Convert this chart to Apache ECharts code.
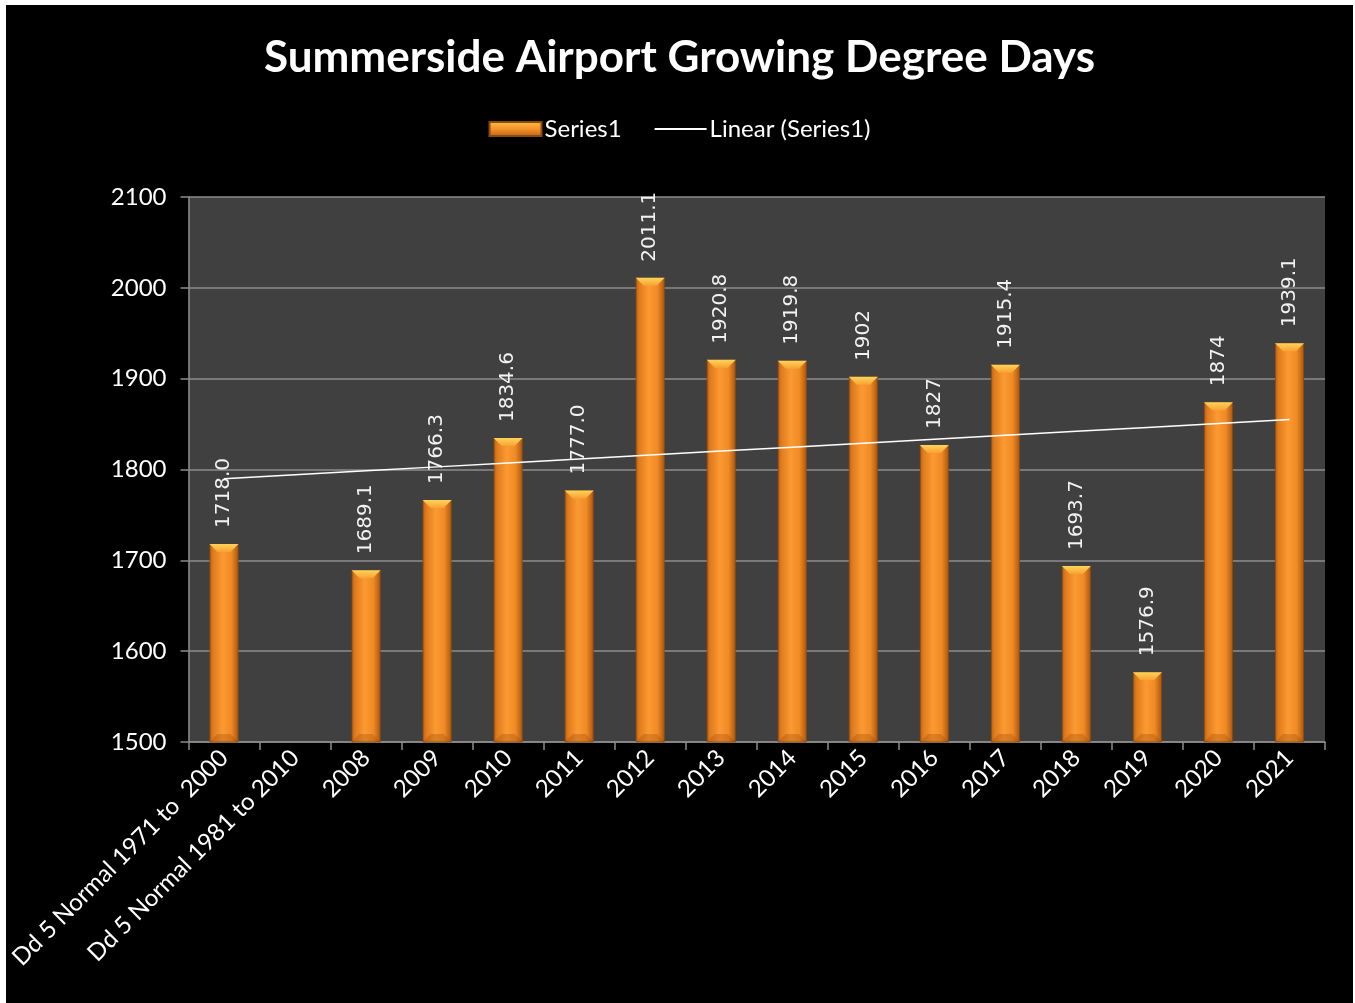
<!DOCTYPE html>
<html>
<head>
<meta charset="utf-8">
<title>Summerside Airport Growing Degree Days</title>
<script src="https://cdn.jsdelivr.net/npm/echarts@6/dist/echarts.min.js"></script>
<style>
  html, body { margin: 0; padding: 0; background: #ffffff; }
  #chart { position: absolute; left: 6px; top: 5px; width: 1347px; height: 998px; background: #000000; }
</style>
</head>
<body>
<div id="chart"></div>
<script>
// Growing degree days (base 5 °C) at Summerside Airport
const categories = [
  'Dd 5 Normal 1971 to  2000',
  'Dd 5 Normal 1981 to 2010',
  '2008', '2009', '2010', '2011', '2012', '2013', '2014',
  '2015', '2016', '2017', '2018', '2019', '2020', '2021'
];
// null = no value recorded for that category
const gddValues = [
  1718.0, null, 1689.1, 1766.3, 1834.6, 1777.0, 2011.1, 1920.8, 1919.8,
  1902, 1827, 1915.4, 1693.7, 1576.9, 1874, 1939.1
];
// Text shown above each bar
const gddLabels = [
  '1718.0', '', '1689.1', '1766.3', '1834.6', '1777.0', '2011.1', '1920.8', '1919.8',
  '1902', '1827', '1915.4', '1693.7', '1576.9', '1874', '1939.1'
];
const yTicks = [1500, 1600, 1700, 1800, 1900, 2000, 2100];

// Least-squares linear trend over the categories that have values (x = 1..n)
function linearTrend(values) {
  const pts = [];
  values.forEach((v, i) => { if (v !== null) pts.push([i + 1, v]); });
  const n = pts.length;
  const mx = pts.reduce((s, p) => s + p[0], 0) / n;
  const my = pts.reduce((s, p) => s + p[1], 0) / n;
  let sxy = 0, sxx = 0;
  pts.forEach(p => { sxy += (p[0] - mx) * (p[1] - my); sxx += (p[0] - mx) * (p[0] - mx); });
  const slope = sxy / sxx;
  const icpt = my - slope * mx;
  return values.map((_, i) => +(icpt + slope * (i + 1)).toFixed(2));
}
const trendValues = linearTrend(gddValues);

const BAR_W = 29;
const textFont = 'Lato, "Open Sans", sans-serif';

const chart = echarts.init(document.getElementById('chart'));

const bodyGradient = new echarts.graphic.LinearGradient(0, 0, 1, 0, [
  { offset: 0, color: '#b85f12' },
  { offset: 0.12, color: '#e07b1c' },
  { offset: 0.45, color: '#fb9a32' },
  { offset: 0.75, color: '#f08a24' },
  { offset: 1, color: '#a9560f' }
]);

chart.setOption({
  backgroundColor: '#000000',
  animation: false,
  title: {
    text: 'Summerside Airport Growing Degree Days',
    left: 'center',
    top: 26,
    textStyle: { color: '#ffffff', fontFamily: textFont, fontWeight: 'bold', fontSize: 44 }
  },
  legend: {
    top: 107,
    left: 'center',
    itemWidth: 52,
    itemHeight: 14,
    itemGap: 32,
    textStyle: { color: '#ffffff', fontFamily: textFont, fontSize: 24, padding: [0, 0, 0, -2] },
    data: [
      { name: 'Series1', icon: 'rect', itemStyle: { color: new echarts.graphic.LinearGradient(0, 0, 0, 1, [
        { offset: 0, color: '#fcc04a' }, { offset: 0.5, color: '#f59228' }, { offset: 1, color: '#b8611a' }
      ]) } },
      { name: 'Linear (Series1)', itemStyle: { color: 'transparent', opacity: 0, borderWidth: 0 } }
    ]
  },
  grid: { left: 180, right: 28, top: 192, bottom: 261, backgroundColor: '#404040', show: true, borderWidth: 0 },
  xAxis: {
    type: 'category',
    data: categories,
    boundaryGap: true,
    axisLine: { lineStyle: { color: '#8c8c8c', width: 1.5 } },
    axisTick: { show: true, alignWithLabel: false, length: 8, lineStyle: { color: '#8c8c8c', width: 1.5 } },
    axisLabel: {
      interval: 0, rotate: 45, color: '#ffffff', fontFamily: textFont, fontSize: 24, margin: 12
    }
  },
  yAxis: {
    type: 'value',
    min: yTicks[0],
    max: yTicks[yTicks.length - 1],
    interval: 100,
    axisLine: { show: true, lineStyle: { color: '#8c8c8c', width: 1.5 } },
    axisTick: { show: true, length: 8, lineStyle: { color: '#8c8c8c', width: 1.5 } },
    splitLine: { show: true, lineStyle: { color: '#8c8c8c', width: 1.5 } },
    axisLabel: { color: '#ffffff', fontFamily: textFont, fontSize: 24, margin: 22, formatter: v => String(v) }
  },
  series: [
    {
      name: 'Series1',
      type: 'bar',
      data: gddValues,
      barWidth: BAR_W,
      itemStyle: { color: bodyGradient, borderColor: '#8a4a10', borderWidth: 0.8 },
      label: {
        show: true,
        position: 'top',
        rotate: 90,
        align: 'left',
        verticalAlign: 'middle',
        distance: 16,
        color: '#f2f2f2',
        fontFamily: '"DejaVu Sans", sans-serif',
        fontSize: 20,
        formatter: p => gddLabels[p.dataIndex]
      },
      z: 2
    },
    {
      // Bevelled cap and base drawn on each bar
      name: 'Series1',
      type: 'custom',
      data: gddValues.map((v, i) => [i, v]),
      silent: true,
      z: 3,
      renderItem: function (params, api) {
        const v = api.value(1);
        if (v === null || isNaN(v)) return null;
        const top = api.coord([api.value(0), v]);
        const base = api.coord([api.value(0), yTicks[0]]);
        const h = BAR_W / 2;
        const cap = 8;
        return {
          type: 'group',
          children: [
            {
              type: 'polygon',
              shape: { points: [[top[0] - h, top[1]], [top[0] + h, top[1]], [top[0] + h - cap, top[1] + cap], [top[0] - h + cap, top[1] + cap]] },
              style: { fill: new echarts.graphic.LinearGradient(0, 0, 0, 1, [
                { offset: 0, color: '#ffd35a' }, { offset: 1, color: '#f7a232' }
              ]) }
            },
            {
              type: 'polygon',
              shape: { points: [[top[0] - h, base[1]], [top[0] + h, base[1]], [top[0] + h - cap, base[1] - cap], [top[0] - h + cap, base[1] - cap]] },
              style: { fill: 'rgba(150,70,10,0.3)' }
            }
          ]
        };
      }
    },
    {
      name: 'Linear (Series1)',
      type: 'line',
      data: trendValues,
      symbol: 'none',
      lineStyle: { color: '#ffffff', width: 1.5 },
      itemStyle: { color: '#ffffff' },
      z: 5
    }
  ]
});
</script>
</body>
</html>
